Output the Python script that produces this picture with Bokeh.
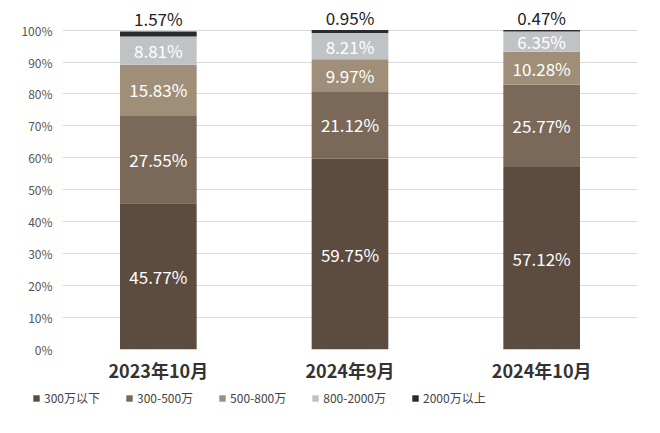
from bokeh.plotting import figure
from bokeh.layouts import column, row
from bokeh.models import ColumnDataSource, Legend, LegendItem, FactorRange, Range1d, FixedTicker, CustomJSTickFormatter
from bokeh.core.properties import value
from bokeh.embed import file_html
from bokeh.resources import INLINE

categories = ["2023年10月", "2024年9月", "2024年10月"]
series_names = ["300万以下", "300-500万", "500-800万", "800-2000万", "2000万以上"]
under_300 = [45.77, 59.75, 57.12]
s300_500 = [27.55, 21.12, 25.77]
s500_800 = [15.83, 9.97, 10.28]
s800_2000 = [8.81, 8.21, 6.35]
over_2000 = [1.57, 0.95, 0.47]
y_ticks = [0, 10, 20, 30, 40, 50, 60, 70, 80, 90, 100]

series_values = [under_300, s300_500, s500_800, s800_2000, over_2000]
colors = ["#5c4c40", "#7a6959", "#a08f78", "#bfc3c6", "#2b2b2b"]
FONT = "Noto Sans CJK SC"

data = {"cat": categories}
for name, vals in zip(series_names, series_values):
    data[name] = vals
source = ColumnDataSource(data)

p = figure(x_range=FactorRange(*categories, range_padding=0), y_range=Range1d(0, 108),
           width=644, height=385, output_backend="svg", toolbar_location=None,
           min_border_left=62, min_border_right=7, min_border_top=4, min_border_bottom=34)
p.outline_line_color = None
p.background_fill_color = "white"

renderers = p.vbar_stack(series_names, x="cat", width=0.4, color=colors, line_color=None, source=source)

# labels
bottoms = [0.0] * len(categories)
for i, (name, vals) in enumerate(zip(series_names, series_values)):
    if i < len(series_names) - 1:
        ys = [b + v / 2 for b, v in zip(bottoms, vals)]
        lab = ColumnDataSource(dict(cat=categories, y=ys, t=[f"{v:.2f}%" for v in vals]))
        p.text(x="cat", y="y", text="t", source=lab, text_align="center", text_baseline="middle",
               text_color="white", text_font=value(FONT), text_font_size="17px")
    bottoms = [b + v for b, v in zip(bottoms, vals)]
    if i == len(series_names) - 1:
        lab = ColumnDataSource(dict(cat=categories, y=bottoms, t=[f"{v:.2f}%" for v in vals]))
        p.text(x="cat", y="y", text="t", source=lab, text_align="center", text_baseline="middle",
               y_offset=-13, text_color="#222222", text_font=value(FONT), text_font_size="17px")

p.yaxis.ticker = FixedTicker(ticks=y_ticks)
p.yaxis.formatter = CustomJSTickFormatter(code="return tick + '%';")
p.yaxis.axis_line_color = None
p.yaxis.major_tick_line_color = None
p.yaxis.minor_tick_line_color = None
p.yaxis.major_tick_out = 0
p.yaxis.major_tick_in = 0
p.yaxis.major_label_text_font = FONT
p.yaxis.major_label_text_font_size = "12px"
p.yaxis.major_label_text_color = "#555555"
p.yaxis.major_label_standoff = 10

p.xaxis.axis_line_color = None
p.xaxis.major_tick_line_color = None
p.xaxis.major_tick_out = 0
p.xaxis.major_tick_in = 0
p.xaxis.major_label_text_font = FONT
p.xaxis.major_label_text_font_size = "18px"
p.xaxis.major_label_text_font_style = "bold"
p.xaxis.major_label_text_color = "#333333"
p.xaxis.major_label_standoff = 7

p.xgrid.grid_line_color = None
p.ygrid.grid_line_color = "#d9d9d9"
p.ygrid.grid_line_width = 1

# legend strip
p2 = figure(width=644, height=32, output_backend="svg", toolbar_location=None,
            x_range=Range1d(0, 1), y_range=Range1d(0, 1), min_border=0)
p2.axis.visible = False
p2.grid.grid_line_color = None
p2.outline_line_color = None
dummies = [p2.vbar(x=[5], top=[1], width=0.1, color=c, line_color=None) for c in colors]

legend = Legend(items=[LegendItem(label=n, renderers=[r]) for n, r in zip(series_names, dummies)],
                orientation="horizontal", location=(32, 11))
legend.label_text_font = FONT
legend.label_text_font_size = "12px"
legend.label_text_color = "#444444"
legend.glyph_width = 8
legend.glyph_height = 8
legend.label_height = 16
legend.label_standoff = 4
legend.spacing = 25
legend.border_line_color = None
legend.background_fill_alpha = 0
legend.padding = 2
legend.margin = 0
p2.add_layout(legend)

layout = column(p, row(p2), spacing=0)
open("out.html", "w").write(file_html(layout, INLINE))
